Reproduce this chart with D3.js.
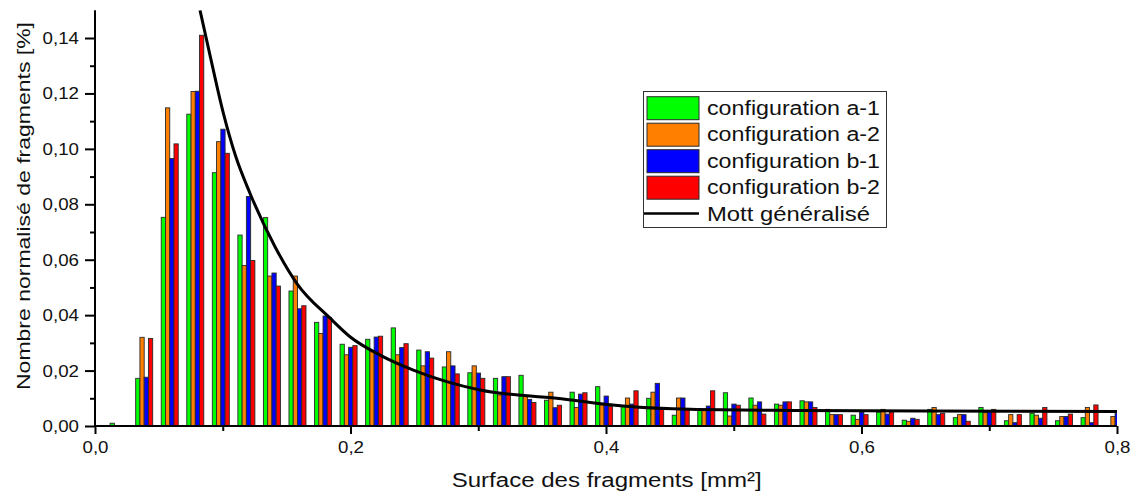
<!DOCTYPE html>
<html>
<head>
<meta charset="utf-8">
<script src="https://cdn.jsdelivr.net/npm/d3@7"></script>
<style>
  body { margin: 0; background: #fff; }
  text { font-family: Arial, "Liberation Sans", sans-serif; fill: #111; }
</style>
</head>
<body>
<div id="chart"></div>
<script>
// bin centres (mm²)
var bins = [0.0185, 0.0385, 0.0585, 0.0785, 0.0985, 0.1185, 0.1385, 0.1585, 0.1785, 0.1985,
            0.2185, 0.2385, 0.2585, 0.2785, 0.2985, 0.3185, 0.3385, 0.3585, 0.3785, 0.3985,
            0.4185, 0.4385, 0.4585, 0.4785, 0.4985, 0.5185, 0.5385, 0.5585, 0.5785, 0.5985,
            0.6185, 0.6385, 0.6585, 0.6785, 0.6985, 0.7185, 0.7385, 0.7585, 0.7785, 0.7985];

var seriesNames = ["configuration a-1", "configuration a-2", "configuration b-1", "configuration b-2"];
var seriesColors = ["#00ff00", "#ff8000", "#0000ff", "#ff0000"];

var a1 = [0.0010, 0.0172, 0.0753, 0.1125, 0.0914, 0.0689, 0.0752, 0.0487, 0.0374, 0.0295,
          0.0313, 0.0354, 0.0274, 0.0213, 0.0192, 0.0172, 0.0183, 0.0093, 0.0122, 0.0142,
          0.0070, 0.0100, 0.0039, 0.0058, 0.0120, 0.0101, 0.0079, 0.0091, 0.0060, 0.0039,
          0.0050, 0.0021, 0.0060, 0.0030, 0.0067, 0.0019, 0.0046, 0.0019, 0.0030, 0.0000];
var a2 = [0.0000, 0.0320, 0.1148, 0.1207, 0.1026, 0.0579, 0.0541, 0.0541, 0.0334, 0.0257,
          0.0268, 0.0257, 0.0217, 0.0268, 0.0217, 0.0112, 0.0108, 0.0122, 0.0067, 0.0076,
          0.0101, 0.0122, 0.0101, 0.0058, 0.0036, 0.0075, 0.0075, 0.0087, 0.0041, 0.0024,
          0.0060, 0.0017, 0.0067, 0.0041, 0.0048, 0.0041, 0.0039, 0.0034, 0.0067, 0.0034];
var b1 = [0.0000, 0.0176, 0.0965, 0.1208, 0.1071, 0.0828, 0.0552, 0.0423, 0.0397, 0.0284,
          0.0321, 0.0283, 0.0268, 0.0217, 0.0191, 0.0178, 0.0096, 0.0066, 0.0115, 0.0108,
          0.0079, 0.0154, 0.0101, 0.0072, 0.0079, 0.0087, 0.0087, 0.0087, 0.0041, 0.0050,
          0.0043, 0.0028, 0.0041, 0.0041, 0.0055, 0.0012, 0.0028, 0.0034, 0.0012, 0.0046];
var b2 = [0.0000, 0.0316, 0.1018, 0.1410, 0.0984, 0.0597, 0.0505, 0.0434, 0.0392, 0.0290,
          0.0324, 0.0297, 0.0245, 0.0188, 0.0172, 0.0178, 0.0085, 0.0075, 0.0120, 0.0070,
          0.0127, 0.0062, 0.0062, 0.0127, 0.0075, 0.0043, 0.0087, 0.0067, 0.0041, 0.0041,
          0.0050, 0.0024, 0.0046, 0.0017, 0.0060, 0.0041, 0.0067, 0.0043, 0.0076, 0.0050];
var seriesValues = [a1, a2, b1, b2];

// Mott généralisé curve
var mottX = [0.0822, 0.0900, 0.1005, 0.1100, 0.1213, 0.1409, 0.1579, 0.1840, 0.1996, 0.2231,
             0.2492, 0.2753, 0.3014, 0.3614, 0.4135, 0.4658, 0.5500, 0.6500, 0.8000];
var mottY = [0.1500, 0.1338, 0.1128, 0.0975, 0.0840, 0.0647, 0.0515, 0.0389, 0.0322, 0.0256,
             0.0202, 0.0160, 0.0130, 0.0100, 0.0072, 0.0060, 0.0056, 0.0054, 0.0052];

var xTicks = [0, 0.2, 0.4, 0.6, 0.8];
var xMinor = [0.1, 0.3, 0.5, 0.7];
var yTicks = [0, 0.02, 0.04, 0.06, 0.08, 0.10, 0.12, 0.14];
var yMinor = [0.01, 0.03, 0.05, 0.07, 0.09, 0.11, 0.13];

var width = 1135, height = 492;
var margin = {top: 10.3, right: 18, bottom: 66, left: 95};

var svg = d3.select("#chart").append("svg")
  .attr("width", width)
  .attr("height", height);

var x = d3.scaleLinear().domain([0, 0.8]).range([margin.left, width - margin.right]);
var y = d3.scaleLinear().domain([0, 0.15]).range([height - margin.bottom, margin.top]);

var fmt = function(d) { return d3.format(".1f")(d).replace(".", ","); };
var fmtY = function(d) { return d3.format(".2f")(d).replace(".", ","); };

svg.append("clipPath").attr("id", "plot")
  .append("rect")
  .attr("x", x(0)).attr("y", y(0.15))
  .attr("width", x(0.8) - x(0)).attr("height", y(0) - y(0.15));

// grouped bars
var binW = x(0.02) - x(0);
var sub = d3.scaleBand().domain(d3.range(4)).range([-binW * 0.333, binW * 0.333]);

var plot = svg.append("g").attr("clip-path", "url(#plot)");

seriesValues.forEach(function(vals, s) {
  plot.append("g").selectAll("rect")
    .data(vals)
    .enter()
    .append("rect")
    .attr("x", function(d, i) { return x(bins[i]) + sub(s); })
    .attr("y", function(d) { return y(d); })
    .attr("width", sub.bandwidth())
    .attr("height", function(d) { return y(0) - y(d); })
    .style("fill", seriesColors[s])
    .style("stroke", "#2a2a2a")
    .style("stroke-width", 0.9);
});

// Mott curve
var mott = d3.line()
  .x(function(d) { return x(d[0]); })
  .y(function(d) { return y(d[1]); })
  .curve(d3.curveMonotoneX);

plot.append("path")
  .datum(mottX.map(function(v, i) { return [v, mottY[i]]; }))
  .attr("d", mott)
  .style("fill", "none")
  .style("stroke", "#000")
  .style("stroke-width", 3);

// axes
var xAxis = svg.append("g")
  .attr("transform", "translate(0," + y(0) + ")")
  .call(d3.axisBottom(x).tickValues(xTicks).tickFormat(fmt).tickSize(8).tickPadding(7));
svg.append("g")
  .attr("transform", "translate(0," + y(0) + ")")
  .call(d3.axisBottom(x).tickValues(xMinor).tickFormat("").tickSize(5));

var yAxis = svg.append("g")
  .attr("transform", "translate(" + x(0) + ",0)")
  .call(d3.axisLeft(y).tickValues(yTicks).tickFormat(fmtY).tickSize(10).tickPadding(6));
svg.append("g")
  .attr("transform", "translate(" + x(0) + ",0)")
  .call(d3.axisLeft(y).tickValues(yMinor).tickFormat("").tickSize(5));

svg.selectAll(".domain").style("stroke", "#000").style("stroke-width", 2)
  .attr("d", function() { return d3.select(this).attr("d").replace(/[MV][^MVH]*H[^V]*V/, function(m){ return m; }); });
svg.selectAll(".tick line").style("stroke", "#000").style("stroke-width", 2);
svg.selectAll(".tick text").style("font-size", "17px").style("fill", "#111")
  .each(function() {
    var t = d3.select(this);
    t.attr("textLength", this.getComputedTextLength() * 1.1).attr("lengthAdjust", "spacingAndGlyphs");
  });

// plain axis lines without outer end ticks
svg.selectAll(".domain").remove();
svg.append("line")
  .attr("x1", x(0)).attr("x2", x(0.8)).attr("y1", y(0)).attr("y2", y(0))
  .style("stroke", "#000").style("stroke-width", 2);
svg.append("line")
  .attr("x1", x(0)).attr("x2", x(0)).attr("y1", y(0)).attr("y2", y(0.15))
  .style("stroke", "#000").style("stroke-width", 2);

// axis titles
svg.append("text")
  .attr("x", 606.7).attr("y", 486.5)
  .style("text-anchor", "middle")
  .style("font-size", "20px")
  .attr("textLength", 310).attr("lengthAdjust", "spacingAndGlyphs")
  .text("Surface des fragments [mm²]");

svg.append("text")
  .attr("transform", "translate(30,206) rotate(-90)")
  .style("text-anchor", "middle")
  .style("font-size", "18px")
  .attr("textLength", 368).attr("lengthAdjust", "spacingAndGlyphs")
  .text("Nombre normalisé de fragments [%]");

// legend
var legend = svg.append("g");
legend.append("rect")
  .attr("x", 643.5).attr("y", 91.5).attr("width", 243).attr("height", 136)
  .style("fill", "#fff").style("stroke", "#333").style("stroke-width", 1);

seriesNames.forEach(function(name, i) {
  var ty = 96.7 + i * 26.5;
  legend.append("rect")
    .attr("x", 647).attr("y", ty).attr("width", 52).attr("height", 23)
    .style("fill", seriesColors[i]).style("stroke", "#2a2a2a").style("stroke-width", 1);
  legend.append("text")
    .attr("x", 707).attr("y", ty + 18)
    .style("font-size", "20px")
    .attr("textLength", 173).attr("lengthAdjust", "spacingAndGlyphs")
    .text(name);
});
legend.append("line")
  .attr("x1", 644).attr("x2", 699).attr("y1", 213.5).attr("y2", 213.5)
  .style("stroke", "#000").style("stroke-width", 2.5);
legend.append("text")
  .attr("x", 707).attr("y", 220.5)
  .style("font-size", "20px")
  .attr("textLength", 163).attr("lengthAdjust", "spacingAndGlyphs")
  .text("Mott généralisé");
</script>
</body>
</html>
